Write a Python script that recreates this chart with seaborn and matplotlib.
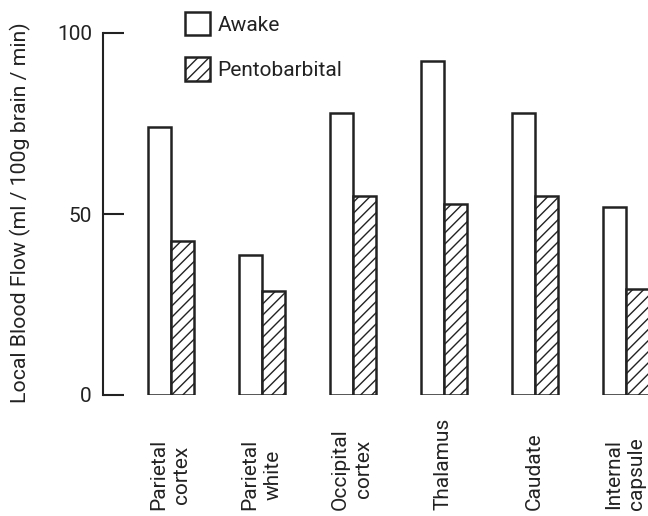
import matplotlib
matplotlib.use("Agg")
import matplotlib.pyplot as plt
import matplotlib.transforms as mtransforms
from matplotlib.patches import Patch
import seaborn as sns
import pandas as pd

regions = ["Parietal\ncortex", "Parietal\nwhite", "Occipital\ncortex",
           "Thalamus", "Caudate", "Internal\ncapsule"]
conditions = ["Awake", "Pentobarbital"]
awake = [74, 38.7, 78, 92.3, 78, 52]
pento = [42.5, 28.7, 55, 52.8, 55, 29.3]
yticks = [0, 50, 100]
ylabel = "Local Blood Flow (ml / 100g brain / min)"

df = pd.DataFrame({
    "region": regions * 2,
    "condition": [conditions[0]] * len(regions) + [conditions[1]] * len(regions),
    "flow": awake + pento,
})

sns.set_theme(style="white")
FONT = ["Roboto", "DejaVu Sans"]
plt.rcParams["font.family"] = FONT
plt.rcParams["hatch.linewidth"] = 1.0
plt.rcParams["hatch.color"] = "#2a2a2a"

INK = "#222222"
fig = plt.figure(figsize=(6.48, 5.16), dpi=100)
ax = fig.add_axes([103 / 648, (516 - 395) / 516, 545 / 648, 362 / 516])

sns.barplot(data=df, x="region", y="flow", hue="condition", order=regions,
            hue_order=conditions, palette=["white", "white"], saturation=1,
            edgecolor=INK, linewidth=1.8, width=0.506, ax=ax, legend=False)

for bar in ax.containers[1]:
    bar.set_hatch("///")

ax.set_xlim(-0.747, 5.24)
ax.set_ylim(0, 100)
for s in ["top", "right", "bottom"]:
    ax.spines[s].set_visible(False)
ax.spines["left"].set_bounds(0, 100)
ax.spines["left"].set_color(INK)
ax.spines["left"].set_linewidth(1.5)
ax.set_yticks(yticks)
ax.set_yticklabels([str(t) for t in yticks])
ax.tick_params(axis="y", direction="in", length=15, width=1.5, color=INK,
               pad=8, labelsize=15, labelcolor=INK, left=True)
ax.set_xticks([])
ax.set_xlabel("")
ax.set_ylabel(ylabel, fontsize=15.3, color=INK)
ax.yaxis.set_label_coords(-0.132, 0.505)

trans = mtransforms.blended_transform_factory(ax.transData, ax.transAxes)
for i, r in enumerate(regions):
    ax.text(i - 0.01, -0.318, r, transform=trans, rotation=90, ha="center",
            va="bottom", multialignment="center", fontsize=15, color=INK,
            linespacing=1.3)

handles = [Patch(facecolor="white", edgecolor=INK, linewidth=1.8),
           Patch(facecolor="white", edgecolor=INK, linewidth=1.8, hatch="///")]
leg = fig.legend(handles, conditions, loc="upper left",
                 bbox_to_anchor=(185 / 648, 1 - 12 / 516), frameon=False,
                 fontsize=15, handlelength=1.2, handleheight=1.35,
                 labelspacing=1.05, handletextpad=0.35, borderpad=0,
                 borderaxespad=0)
for t in leg.get_texts():
    t.set_color(INK)

fig.savefig("out.png", dpi=100)
